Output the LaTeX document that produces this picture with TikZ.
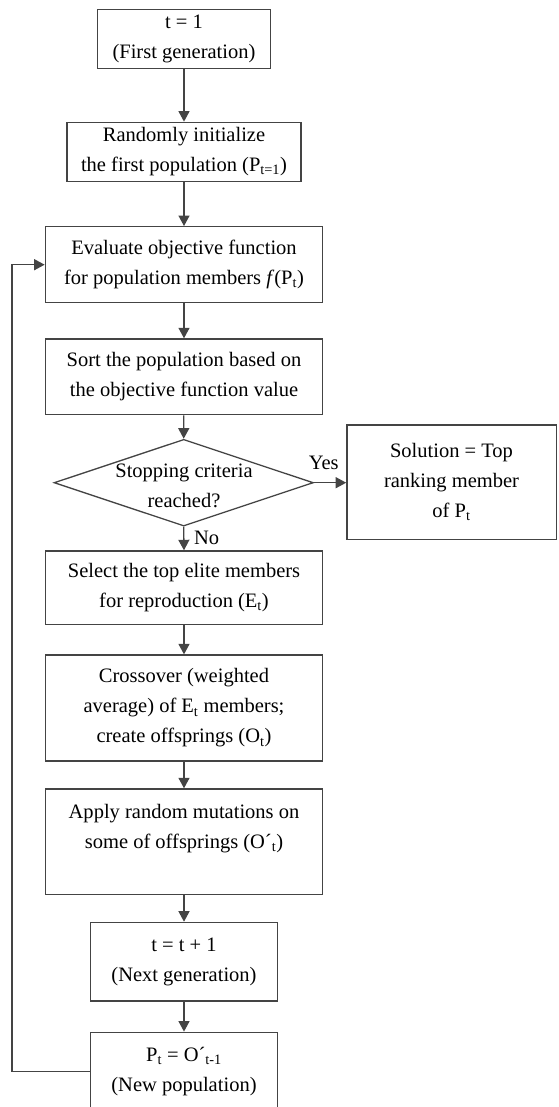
\documentclass[tikz,border=0pt]{standalone}
\usepackage{fontspec}
\setmainfont{Liberation Serif}
\usetikzlibrary{shapes.geometric,arrows.meta}
\definecolor{inkgray}{HTML}{444444}
\newcommand{\sbs}[1]{\textsubscript{#1}}
\tikzset{
  txt/.style={font=\fontsize{20.5}{30}\selectfont, text=black, align=center, inner sep=0pt},
  procbox/.style={txt, draw=inkgray, line width=1.3pt, rectangle},
  decbox/.style={draw=inkgray, line width=1.3pt, diamond, inner sep=0pt},
  flow/.style={draw=inkgray, line width=1.3pt, -{Triangle[length=10.5pt,width=11pt]}},
}
\begin{document}
\begin{tikzpicture}[x=1pt, y={(0pt,-1pt)}]
  \clip (0,0) rectangle (558,1107);

  % process steps of the genetic algorithm
  \node[procbox, minimum width=173pt, minimum height=59.4pt] (init) at (184,39)
    {t = 1\\(First generation)};
  \node[procbox, minimum width=234pt, minimum height=59pt] (rand) at (184,151.8)
    {Randomly initialize\\the first population (P\sbs{t=1})};
  \node[procbox, minimum width=277.4pt, minimum height=76pt] (eval) at (184,264.7)
    {Evaluate objective function\\for population members \textit{f}(P\sbs{t})};
  \node[procbox, minimum width=277.4pt, minimum height=75.7pt] (sort) at (184,376.8)
    {Sort the population based on\\the objective function value};

  % stopping test
  \node[decbox, minimum width=259.3pt, minimum height=86.7pt] (stop) at (183.7,482.7) {};
  \node[txt] (stoptxt) at (184,486) {Stopping criteria\\reached?};
  \node[procbox, minimum width=209.3pt, minimum height=114.3pt] (sol) at (451.5,482.2)
    {Solution = Top\\ranking member\\of P\sbs{t}};

  \node[procbox, minimum width=277.4pt, minimum height=73.7pt] (sel) at (184,587.8)
    {Select the top elite members\\for reproduction (E\sbs{t})};
  \node[procbox, minimum width=277.4pt, minimum height=106pt] (cross) at (184,708)
    {Crossover (weighted\\average) of E\sbs{t} members;\\create offsprings (O\sbs{t})};
  \node[procbox, minimum width=277.4pt, minimum height=105.3pt] (mut) at (184,841.6)
    {Apply random mutations on\\some of offsprings (O´\sbs{t})\\\mbox{}};
  \node[procbox, minimum width=186.6pt, minimum height=78.7pt] (next) at (184,961.7)
    {t = t + 1\\(Next generation)};
  \node[procbox, minimum width=186.6pt, minimum height=78.7pt] (newpop) at (184,1071.6)
    {P\sbs{t} = O´\sbs{t-1}\\(New population)};

  % connectors
  \draw[flow] (init) -- (rand);
  \draw[flow] (rand) -- (eval);
  \draw[flow] (eval) -- (sort);
  \draw[flow] (sort) -- (stop.north);
  \draw[flow] (stop.east) -- (sol.west |- stop.east);
  \draw[flow] (stop.south) -- (sel.north);
  \draw[flow] (sel) -- (cross);
  \draw[flow] (cross) -- (mut);
  \draw[flow] (mut) -- (next);
  \draw[flow] (next) -- (newpop);

  % feedback loop to the evaluation step
  \coordinate (loopx) at (12,0);
  \draw[flow] (newpop.west) -- (newpop.west -| loopx) -- (eval.west -| loopx) -- (eval.west);

  % branch labels
  \node[txt] (yes) at (323.8,462.7) {Yes};
  \node[txt] (no) at (206.7,538.3) {No};
\end{tikzpicture}
\end{document}
